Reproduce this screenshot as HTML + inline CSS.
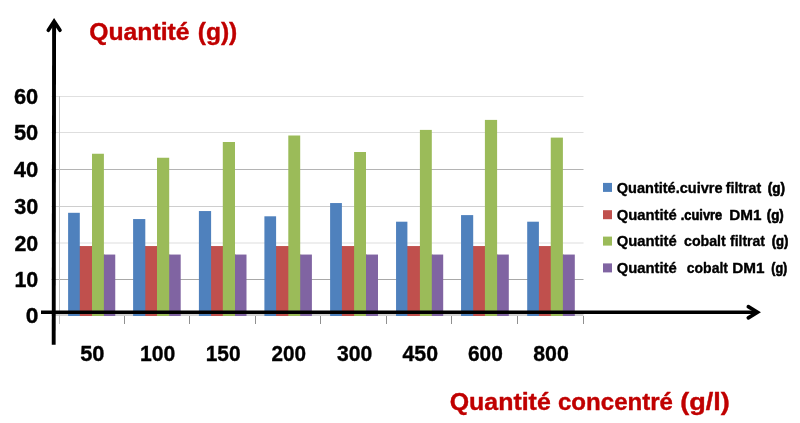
<!DOCTYPE html>
<html lang="fr"><head><meta charset="utf-8"><title>Quantité</title>
<style>html,body{margin:0;padding:0;background:#fff;overflow:hidden}svg{display:block}text{font-family:"Liberation Sans",sans-serif;font-weight:bold;stroke-linejoin:round}</style></head><body>
<svg width="800" height="423" viewBox="0 0 800 423">
<rect width="800" height="423" fill="#fff"/>
<rect x="51.5" y="96" width="532.0" height="1" fill="#e0e0e0"/>
<rect x="51.5" y="132" width="532.0" height="1" fill="#dedede"/>
<rect x="51.5" y="169" width="532.0" height="1" fill="#b4b4b4"/>
<rect x="51.5" y="206" width="532.0" height="1" fill="#cecece"/>
<rect x="51.5" y="242" width="532.0" height="2" fill="#eeeeee"/>
<rect x="51.5" y="279" width="532.0" height="1" fill="#a8a8a8"/>
<rect x="51.5" y="314" width="532.0" height="2" fill="#d0d0d0"/>
<rect x="59" y="96" width="1" height="228" fill="#c4c4c4"/>
<rect x="124" y="316" width="1" height="8" fill="#909090"/>
<rect x="189" y="316" width="1" height="8" fill="#909090"/>
<rect x="255" y="316" width="1" height="8" fill="#909090"/>
<rect x="320" y="316" width="1" height="8" fill="#909090"/>
<rect x="386" y="316" width="1" height="8" fill="#909090"/>
<rect x="451" y="316" width="1" height="8" fill="#909090"/>
<rect x="517" y="316" width="1" height="8" fill="#909090"/>
<rect x="583" y="316" width="1" height="8" fill="#909090"/>
<rect x="78.80" y="246.05" width="2" height="69.95" fill="#4F81BD"/>
<rect x="91.00" y="246.05" width="2" height="69.95" fill="#C0504D"/>
<rect x="102.90" y="254.55" width="2" height="61.45" fill="#9BBB59"/>
<rect x="68.10" y="212.80" width="11.70" height="103.20" fill="#4F81BD"/>
<rect x="79.80" y="246.05" width="12.20" height="69.95" fill="#C0504D"/>
<rect x="92.00" y="153.75" width="11.90" height="162.25" fill="#9BBB59"/>
<rect x="103.90" y="254.55" width="11.35" height="61.45" fill="#8064A2"/>
<rect x="144.30" y="246.05" width="2" height="69.95" fill="#4F81BD"/>
<rect x="156.00" y="246.05" width="2" height="69.95" fill="#C0504D"/>
<rect x="168.20" y="254.55" width="2" height="61.45" fill="#9BBB59"/>
<rect x="133.10" y="219.05" width="12.20" height="96.95" fill="#4F81BD"/>
<rect x="145.30" y="246.05" width="11.70" height="69.95" fill="#C0504D"/>
<rect x="157.00" y="157.75" width="12.20" height="158.25" fill="#9BBB59"/>
<rect x="169.20" y="254.55" width="11.50" height="61.45" fill="#8064A2"/>
<rect x="210.10" y="246.05" width="2" height="69.95" fill="#4F81BD"/>
<rect x="221.80" y="246.05" width="2" height="69.95" fill="#C0504D"/>
<rect x="234.00" y="254.55" width="2" height="61.45" fill="#9BBB59"/>
<rect x="198.90" y="211.05" width="12.20" height="104.95" fill="#4F81BD"/>
<rect x="211.10" y="246.05" width="11.70" height="69.95" fill="#C0504D"/>
<rect x="222.80" y="142.00" width="12.20" height="174.00" fill="#9BBB59"/>
<rect x="235.00" y="254.55" width="11.50" height="61.45" fill="#8064A2"/>
<rect x="275.10" y="246.05" width="2" height="69.95" fill="#4F81BD"/>
<rect x="287.30" y="246.05" width="2" height="69.95" fill="#C0504D"/>
<rect x="299.20" y="254.55" width="2" height="61.45" fill="#9BBB59"/>
<rect x="264.40" y="216.30" width="11.70" height="99.70" fill="#4F81BD"/>
<rect x="276.10" y="246.05" width="12.20" height="69.95" fill="#C0504D"/>
<rect x="288.30" y="135.50" width="11.90" height="180.50" fill="#9BBB59"/>
<rect x="300.20" y="254.55" width="11.70" height="61.45" fill="#8064A2"/>
<rect x="340.90" y="246.05" width="2" height="69.95" fill="#4F81BD"/>
<rect x="353.10" y="246.05" width="2" height="69.95" fill="#C0504D"/>
<rect x="365.00" y="254.55" width="2" height="61.45" fill="#9BBB59"/>
<rect x="330.10" y="203.05" width="11.80" height="112.95" fill="#4F81BD"/>
<rect x="341.90" y="246.05" width="12.20" height="69.95" fill="#C0504D"/>
<rect x="354.10" y="152.00" width="11.90" height="164.00" fill="#9BBB59"/>
<rect x="366.00" y="254.55" width="12.00" height="61.45" fill="#8064A2"/>
<rect x="406.40" y="246.05" width="2" height="69.95" fill="#4F81BD"/>
<rect x="418.90" y="246.05" width="2" height="69.95" fill="#C0504D"/>
<rect x="430.80" y="254.55" width="2" height="61.45" fill="#9BBB59"/>
<rect x="396.05" y="221.70" width="11.35" height="94.30" fill="#4F81BD"/>
<rect x="407.40" y="246.05" width="12.50" height="69.95" fill="#C0504D"/>
<rect x="419.90" y="129.90" width="11.90" height="186.10" fill="#9BBB59"/>
<rect x="431.80" y="254.55" width="11.40" height="61.45" fill="#8064A2"/>
<rect x="472.20" y="246.05" width="2" height="69.95" fill="#4F81BD"/>
<rect x="483.90" y="246.05" width="2" height="69.95" fill="#C0504D"/>
<rect x="496.10" y="254.55" width="2" height="61.45" fill="#9BBB59"/>
<rect x="461.05" y="215.10" width="12.15" height="100.90" fill="#4F81BD"/>
<rect x="473.20" y="246.05" width="11.70" height="69.95" fill="#C0504D"/>
<rect x="484.90" y="119.90" width="12.20" height="196.10" fill="#9BBB59"/>
<rect x="497.10" y="254.55" width="11.70" height="61.45" fill="#8064A2"/>
<rect x="537.90" y="246.05" width="2" height="69.95" fill="#4F81BD"/>
<rect x="549.75" y="246.05" width="2" height="69.95" fill="#C0504D"/>
<rect x="561.90" y="254.55" width="2" height="61.45" fill="#9BBB59"/>
<rect x="527.20" y="221.70" width="11.70" height="94.30" fill="#4F81BD"/>
<rect x="538.90" y="246.05" width="11.85" height="69.95" fill="#C0504D"/>
<rect x="550.75" y="137.60" width="12.15" height="178.40" fill="#9BBB59"/>
<rect x="562.90" y="254.55" width="11.90" height="61.45" fill="#8064A2"/>
<g stroke="#000" stroke-width="3.6" fill="none" stroke-linecap="butt" stroke-linejoin="miter">
<line x1="41" y1="312.2" x2="756.5" y2="312.2"/>
<line x1="53.7" y1="344.8" x2="54.1" y2="22.5" stroke-width="3.9"/>
</g>
<g stroke="#000" stroke-width="3.6" fill="none" stroke-linecap="round" stroke-linejoin="miter">
<polyline points="748.3,306.6 757.5,312.2 748.3,317.9"/>
<polyline points="48.3,30.3 54.1,21.4 60,30.3"/>
</g>
<text x="13.96" y="103.5" font-size="21.2" textLength="24.32" lengthAdjust="spacingAndGlyphs" stroke="#000" stroke-width="0.35">60</text>
<text x="13.96" y="140.3" font-size="21.2" textLength="24.32" lengthAdjust="spacingAndGlyphs" stroke="#000" stroke-width="0.35">50</text>
<text x="13.74" y="176.7" font-size="21.2" textLength="24.53" lengthAdjust="spacingAndGlyphs" stroke="#000" stroke-width="0.35">40</text>
<text x="14.23" y="213.5" font-size="21.2" textLength="24.05" lengthAdjust="spacingAndGlyphs" stroke="#000" stroke-width="0.35">30</text>
<text x="14.47" y="250.6" font-size="21.2" textLength="23.81" lengthAdjust="spacingAndGlyphs" stroke="#000" stroke-width="0.35">20</text>
<text x="14.42" y="286.9" font-size="21.2" textLength="23.88" lengthAdjust="spacingAndGlyphs" stroke="#000" stroke-width="0.35">10</text>
<text x="25.66" y="323.2" font-size="21.2" textLength="12.66" lengthAdjust="spacingAndGlyphs" stroke="#000" stroke-width="0.35">0</text>
<text x="80.21" y="361.2" font-size="21.2" textLength="24.32" lengthAdjust="spacingAndGlyphs" stroke="#000" stroke-width="0.35">50</text>
<text x="139.95" y="361.2" font-size="21.2" textLength="35.33" lengthAdjust="spacingAndGlyphs" stroke="#000" stroke-width="0.35">100</text>
<text x="205.70" y="361.2" font-size="21.2" textLength="34.83" lengthAdjust="spacingAndGlyphs" stroke="#000" stroke-width="0.35">150</text>
<text x="271.48" y="361.2" font-size="21.2" textLength="34.54" lengthAdjust="spacingAndGlyphs" stroke="#000" stroke-width="0.35">200</text>
<text x="336.99" y="361.2" font-size="21.2" textLength="35.28" lengthAdjust="spacingAndGlyphs" stroke="#000" stroke-width="0.35">300</text>
<text x="402.50" y="361.2" font-size="21.2" textLength="35.52" lengthAdjust="spacingAndGlyphs" stroke="#000" stroke-width="0.35">450</text>
<text x="467.98" y="361.2" font-size="21.2" textLength="34.79" lengthAdjust="spacingAndGlyphs" stroke="#000" stroke-width="0.35">600</text>
<text x="533.24" y="361.2" font-size="21.2" textLength="35.54" lengthAdjust="spacingAndGlyphs" stroke="#000" stroke-width="0.35">800</text>
<g fill="#C00000" stroke="#C00000" stroke-width="0.4">
<text x="89.24" y="40" font-size="24.6" textLength="100.27" lengthAdjust="spacingAndGlyphs" >Quantité</text> <text x="197.69" y="40" font-size="24.6" textLength="39.61" lengthAdjust="spacingAndGlyphs" >(g))</text>
<text x="449.74" y="410" font-size="24.6" textLength="101.02" lengthAdjust="spacingAndGlyphs" >Quantité</text> <text x="557.99" y="410" font-size="24.6" textLength="115.01" lengthAdjust="spacingAndGlyphs" >concentré</text> <text x="680.21" y="410" font-size="24.6" textLength="49.59" lengthAdjust="spacingAndGlyphs" >(g/l)</text>
</g>
<rect x="603" y="182.9" width="9" height="9" fill="#4F81BD"/>
<text x="616.75" y="192.8" font-size="14" textLength="105.76" lengthAdjust="spacingAndGlyphs" stroke="#000" stroke-width="0.35">Quantité.cuivre</text> <text x="725.75" y="192.8" font-size="14" textLength="35.50" lengthAdjust="spacingAndGlyphs" stroke="#000" stroke-width="0.35">filtrat</text> <text x="767.74" y="192.8" font-size="14" textLength="17.28" lengthAdjust="spacingAndGlyphs" stroke="#000" stroke-width="0.6">(g)</text>
<rect x="603" y="210.2" width="9" height="9" fill="#C0504D"/>
<text x="616.75" y="219.8" font-size="14" textLength="60.01" lengthAdjust="spacingAndGlyphs" stroke="#000" stroke-width="0.35">Quantité</text> <text x="680.74" y="219.8" font-size="14" textLength="41.51" lengthAdjust="spacingAndGlyphs" stroke="#000" stroke-width="0.6">.cuivre</text> <text x="729.23" y="219.8" font-size="14" textLength="32.28" lengthAdjust="spacingAndGlyphs" stroke="#000" stroke-width="0.35">DM1</text> <text x="766.73" y="219.8" font-size="14" textLength="17.04" lengthAdjust="spacingAndGlyphs" stroke="#000" stroke-width="0.6">(g)</text>
<rect x="603" y="236.6" width="9" height="9" fill="#9BBB59"/>
<text x="616.75" y="246.3" font-size="14" textLength="60.01" lengthAdjust="spacingAndGlyphs" stroke="#000" stroke-width="0.35">Quantité</text> <text x="684.00" y="246.3" font-size="14" textLength="41.75" lengthAdjust="spacingAndGlyphs" stroke="#000" stroke-width="0.35">cobalt</text> <text x="730.00" y="246.3" font-size="14" textLength="35.00" lengthAdjust="spacingAndGlyphs" stroke="#000" stroke-width="0.35">filtrat</text> <text x="771.73" y="246.3" font-size="14" textLength="16.79" lengthAdjust="spacingAndGlyphs" stroke="#000" stroke-width="0.6">(g)</text>
<rect x="603" y="263.4" width="9" height="9" fill="#8064A2"/>
<text x="616.75" y="272.8" font-size="14" textLength="60.01" lengthAdjust="spacingAndGlyphs" stroke="#000" stroke-width="0.35">Quantité</text> <text x="686.75" y="272.8" font-size="14" textLength="41.25" lengthAdjust="spacingAndGlyphs" stroke="#000" stroke-width="0.35">cobalt</text> <text x="732.23" y="272.8" font-size="14" textLength="32.28" lengthAdjust="spacingAndGlyphs" stroke="#000" stroke-width="0.35">DM1</text> <text x="771.24" y="272.8" font-size="14" textLength="16.02" lengthAdjust="spacingAndGlyphs" stroke="#000" stroke-width="0.6">(g)</text>
</svg></body></html>
